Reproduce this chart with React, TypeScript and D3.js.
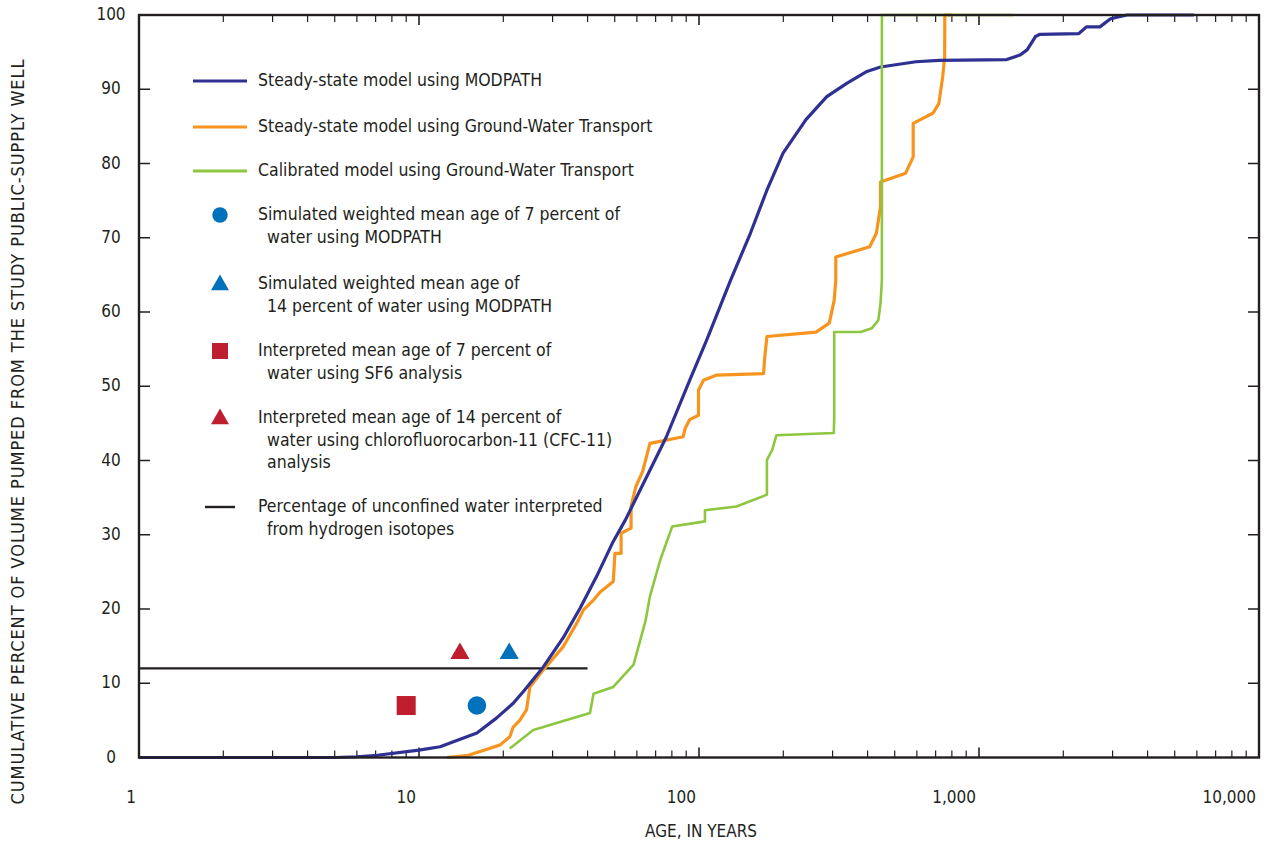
import React, { useRef, useEffect } from 'react';
import * as d3 from 'd3';

// [age in years, cumulative percent]
const modpathCurve: [number, number][] = [
  [1, 0], [5.0, 0], [6.0, 0.1], [7.1, 0.3], [10, 1.0], [11.9, 1.45], [13.2, 2.1], [16.1, 3.3],
  [18.9, 5.3], [21.7, 7.3], [23.6, 8.9], [27.8, 12.2], [32.7, 16.1], [37.6, 20.1], [43.1, 24.4],
  [49.4, 29.1], [54.6, 32.0], [76.5, 43.2], [92.6, 50.8], [106.5, 56.2], [129.7, 64.3],
  [152.6, 70.6], [174.8, 76.4], [199.6, 81.4], [241, 85.9], [286, 89.0], [337, 90.8],
  [398, 92.4], [445, 93.0], [595, 93.7], [721, 93.9], [1256, 94.0], [1400, 94.6], [1485, 95.3],
  [1591, 97.1], [1652, 97.4], [2273, 97.5], [2420, 98.4], [2703, 98.4], [2950, 99.5],
  [3379, 100], [5850, 100],
];

const gwtSteadyCurve: [number, number][] = [
  [12.6, 0], [15.0, 0.3], [17.5, 1.1], [19.5, 1.7], [21.1, 2.8], [21.7, 4.1], [22.9, 5.0],
  [24.2, 6.4], [24.9, 9.5], [27.8, 11.8], [32.7, 14.9], [36.6, 18.1], [38.7, 19.9], [42.0, 21.2],
  [44.4, 22.3], [49.4, 23.7], [50.1, 27.5], [52.7, 27.5], [52.7, 30.2], [57.2, 30.9],
  [57.2, 33.8], [59.5, 36.5], [62.9, 38.5], [66.8, 42.3], [87.8, 43.2], [89.2, 44.3],
  [92.6, 45.5], [99.6, 46.1], [99.6, 49.5], [103.8, 50.8], [115.8, 51.5], [170, 51.7],
  [171.8, 54.0], [174.8, 56.7], [261.7, 57.3], [292, 58.5], [304, 61.6], [308, 64.3],
  [308, 67.4], [407, 68.8], [430, 70.6], [445, 74.2], [445, 77.5], [547, 78.7], [582, 80.9],
  [582, 85.4], [686, 86.8], [719, 88.1], [742, 91.7], [754, 94.4], [755, 100], [800, 100],
];

const gwtCalibratedCurve: [number, number][] = [
  [21.1, 1.2], [25.6, 3.7], [40.8, 6.0], [42, 8.6], [49.4, 9.5], [58.4, 12.5], [64.5, 18.5],
  [66.8, 21.7], [72.7, 26.6], [80.2, 31.1], [105, 31.8], [105, 33.3], [136, 33.8],
  [174.8, 35.4], [174.8, 40.1], [182.5, 41.4], [189, 43.4], [303, 43.7], [304, 45.9],
  [304, 57.3], [378, 57.3], [414, 57.8], [437, 58.9], [445, 61.2], [450, 64.3], [450, 100],
  [1323, 100],
];

// point observations [age, percent]
const simulated7 = [16.1, 7];
const simulated14 = [21, 14];
const interpreted7 = [9, 7];
const interpreted14 = [14, 14];
const unconfinedPct = 12;
const unconfinedAgeRange = [1, 40];

const xTickLabels = ['1', '10', '100', '1,000', '10,000'];
const xTickValues = [1, 10, 100, 1000, 10000];
const yTickValues = d3.range(0, 101, 10);

const legendItems = [
  { kind: 'line', color: '#2e3192', lines: ['Steady-state model using MODPATH'] },
  { kind: 'line', color: '#f7941d', lines: ['Steady-state model using Ground-Water Transport'] },
  { kind: 'line', color: '#8dc63f', lines: ['Calibrated model using Ground-Water Transport'] },
  { kind: 'circle', color: '#0072bc', lines: ['Simulated weighted mean age of 7 percent of', 'water using MODPATH'] },
  { kind: 'triangle', color: '#0072bc', lines: ['Simulated weighted mean age of', '14 percent of water using MODPATH'] },
  { kind: 'square', color: '#be1e2d', lines: ['Interpreted mean age of 7 percent of', 'water using SF6 analysis'] },
  { kind: 'triangle', color: '#be1e2d', lines: ['Interpreted mean age of 14 percent of', 'water using chlorofluorocarbon-11 (CFC-11)', 'analysis'] },
  { kind: 'black', color: '#231f20', lines: ['Percentage of unconfined water interpreted', 'from hydrogen isotopes'] },
];
const legendRowY = [81, 127, 171, 215, 284, 351, 418, 507];

const FONT = '"Liberation Sans Narrow", "DejaVu Sans Condensed", "Liberation Sans", sans-serif';
const INK = '#231f20';

const App = () => {
  const chartRef = useRef<HTMLDivElement>(null);

  useEffect(() => {
    document.body.style.margin = '0';
    d3.select(chartRef.current).select('svg').remove();

    const width = 1266, height = 846;
    const left = 139, right = 1259, top = 15, bottom = 757.5;

    const svg = d3.select(chartRef.current)
      .append('svg')
      .attr('width', width)
      .attr('height', height)
      .style('display', 'block')
      .style('background', '#fff')
      .style('font-family', FONT);

    const x = d3.scaleLog().domain([1, 10000]).range([left, right]);
    const y = d3.scaleLinear().domain([0, 100]).range([bottom, top]);

    // minor + major ticks along bottom and top (pointing inward)
    const minor: number[] = [];
    for (let d = 1; d < 10000; d *= 10) for (let k = 2; k <= 9; k++) minor.push(d * k);

    const g = svg.append('g');
    [bottom, top].forEach(edge => {
      const dir = edge === bottom ? -1 : 1;
      g.selectAll(null).data(minor).enter().append('line')
        .attr('x1', d => x(d)).attr('x2', d => x(d))
        .attr('y1', edge).attr('y2', edge + dir * 7)
        .attr('stroke', INK).attr('stroke-width', 1.2);
      g.selectAll(null).data(xTickValues).enter().append('line')
        .attr('x1', d => x(d)).attr('x2', d => x(d))
        .attr('y1', edge).attr('y2', edge + dir * 10)
        .attr('stroke', INK).attr('stroke-width', 1.6);
    });
    [left, right].forEach(edge => {
      const dir = edge === left ? 1 : -1;
      g.selectAll(null).data(yTickValues.slice(1, -1)).enter().append('line')
        .attr('x1', edge).attr('x2', edge + dir * 11)
        .attr('y1', d => y(d)).attr('y2', d => y(d))
        .attr('stroke', INK).attr('stroke-width', 1.5);
    });

    // tick labels
    svg.selectAll('text.xt').data(xTickValues).enter().append('text')
      .attr('class', 'xt')
      .attr('x', d => x(d) - 3).attr('y', 798)
      .attr('text-anchor', 'end').attr('dominant-baseline', 'middle')
      .attr('font-size', 17).attr('fill', INK)
      .text((d, i) => xTickLabels[i]);

    svg.selectAll('text.yt').data(yTickValues).enter().append('text')
      .attr('class', 'yt')
      .attr('x', 111).attr('y', d => y(d))
      .attr('text-anchor', 'middle').attr('dominant-baseline', 'middle')
      .attr('font-size', 17).attr('fill', INK)
      .text(d => d);

    svg.append('text')
      .attr('x', 701).attr('y', 832)
      .attr('text-anchor', 'middle').attr('dominant-baseline', 'middle')
      .attr('font-size', 17).attr('fill', INK)
      .text('AGE, IN YEARS');

    svg.append('text')
      .attr('transform', 'translate(19,432) rotate(-90)')
      .attr('text-anchor', 'middle').attr('dominant-baseline', 'middle')
      .attr('font-size', 18).attr('fill', INK)
      .attr('textLength', 745).attr('lengthAdjust', 'spacing')
      .text('CUMULATIVE PERCENT OF VOLUME PUMPED FROM THE STUDY PUBLIC-SUPPLY WELL');

    // unconfined water line
    svg.append('line')
      .attr('x1', x(unconfinedAgeRange[0])).attr('x2', x(unconfinedAgeRange[1]))
      .attr('y1', y(unconfinedPct)).attr('y2', y(unconfinedPct))
      .attr('stroke', INK).attr('stroke-width', 2.4);

    const line = d3.line<[number, number]>().x(d => x(d[0])).y(d => y(d[1]));

    svg.append('path').datum(gwtSteadyCurve).attr('d', line)
      .attr('fill', 'none').attr('stroke', '#f7941d').attr('stroke-width', 3.2).attr('stroke-linejoin', 'round');
    svg.append('path').datum(modpathCurve).attr('d', line)
      .attr('fill', 'none').attr('stroke', '#2e3192').attr('stroke-width', 3.2).attr('stroke-linejoin', 'round');
    svg.append('path').datum(gwtCalibratedCurve).attr('d', line)
      .attr('fill', 'none').attr('stroke', '#8dc63f').attr('stroke-width', 2.6).attr('stroke-linejoin', 'round');

    const tri = (size: number) => d3.symbol().type(d3.symbolTriangle).size(size)();

    svg.append('circle')
      .attr('cx', x(simulated7[0])).attr('cy', y(simulated7[1])).attr('r', 9.3)
      .attr('fill', '#0072bc');
    svg.append('path')
      .attr('d', tri(160))
      .attr('transform', `translate(${x(simulated14[0])},${y(simulated14[1])})`)
      .attr('fill', '#0072bc');
    svg.append('rect')
      .attr('x', x(interpreted7[0]) - 9.5).attr('y', y(interpreted7[1]) - 9.5)
      .attr('width', 19).attr('height', 19)
      .attr('fill', '#be1e2d');
    svg.append('path')
      .attr('d', tri(160))
      .attr('transform', `translate(${x(interpreted14[0])},${y(interpreted14[1])})`)
      .attr('fill', '#be1e2d');

    // frame
    svg.append('rect')
      .attr('x', left).attr('y', top)
      .attr('width', right - left).attr('height', bottom - top)
      .attr('fill', 'none').attr('stroke', INK).attr('stroke-width', 2.4);

    // legend
    const legend = svg.append('g');
    legendItems.forEach((item, i) => {
      const cy = legendRowY[i];
      if (item.kind === 'line') {
        legend.append('line').attr('x1', 193).attr('x2', 247).attr('y1', cy).attr('y2', cy)
          .attr('stroke', item.color).attr('stroke-width', 3);
      } else if (item.kind === 'black') {
        legend.append('line').attr('x1', 205).attr('x2', 235).attr('y1', cy).attr('y2', cy)
          .attr('stroke', item.color).attr('stroke-width', 2.4);
      } else if (item.kind === 'circle') {
        legend.append('circle').attr('cx', 220).attr('cy', cy).attr('r', 7.7).attr('fill', item.color);
      } else if (item.kind === 'square') {
        legend.append('rect').attr('x', 212).attr('y', cy - 8).attr('width', 16).attr('height', 16)
          .attr('fill', item.color);
      } else {
        legend.append('path').attr('d', tri(140)).attr('transform', `translate(220,${cy + 1})`)
          .attr('fill', item.color);
      }
      item.lines.forEach((t, j) => {
        legend.append('text')
          .attr('x', j === 0 ? 258 : 267).attr('y', cy + j * 22.5)
          .attr('dominant-baseline', 'middle')
          .attr('font-size', 17.5).attr('fill', INK)
          .text(t);
      });
    });
  }, []);

  return <div ref={chartRef} />;
};

export default App;
